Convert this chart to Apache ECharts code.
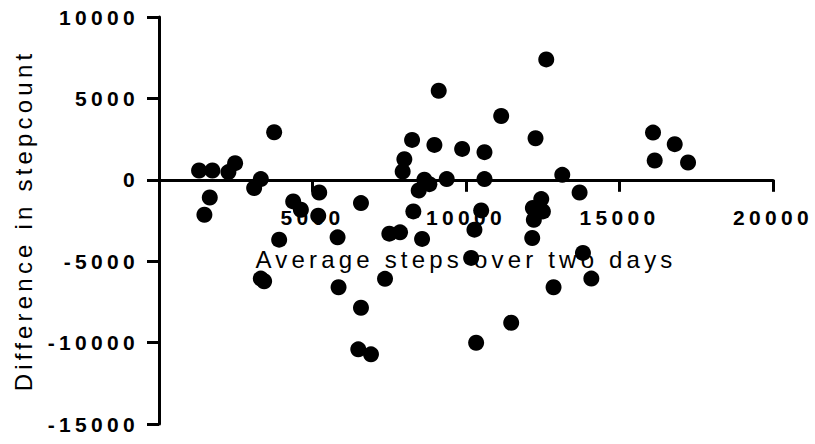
<!DOCTYPE html>
<html>
<head>
<meta charset="utf-8">
<script src="https://cdn.jsdelivr.net/npm/echarts@6/dist/echarts.min.js"></script>
<style>
  html, body { margin: 0; padding: 0; background: #fff; }
  #chart { width: 815px; height: 444px; }
  /* widely spaced lettering for all axis text */
  #chart text { letter-spacing: 4.2px; }
  #chart text[style*="bold"] { letter-spacing: 4.3px; }
</style>
</head>
<body>
<div id="chart"></div>
<script>
// Average steps over two days (x) vs. difference in step count (y)
const avgSteps = [
  1305, 1739, 2261, 2479, 1654, 1479, 3099, 3317, 3751, 4371,
  4622, 5219, 5187, 6579, 8243, 7992, 7937, 8971, 9111, 9874,
  10602, 11146, 12614, 12265, 16092, 16799, 16147, 17233, 13136, 13700,
  9372, 10602, 12451, 12178, 12504, 12210, 10494, 10275, 8644, 8807,
  8459, 8285, 3914, 5817, 7503, 7851, 8569, 10167, 3317, 3425,
  5849, 7362, 6579, 6491, 6905, 10330, 12157, 13809, 14083, 12852,
  11472
];
const stepDiff = [
  570, 570, 472, 1023, -1084, -2144, -509, 43, 2922, -1329,
  -1838, -778, -2206, -1430, 2451, 1268, 509, 2144, 5471, 1899,
  1697, 3921, 7395, 2555, 2898, 2187, 1183, 1060, 306, -778,
  43, 43, -1183, -1734, -1942, -2451, -1881, -3064, 0, -266,
  -654, -1942, -3676, -3535, -3309, -3229, -3633, -4797, -6066, -6231,
  -6599, -6084, -7861, -10416, -10722, -10006, -3574, -4493, -6066, -6599,
  -8782
];
const xTicks = [0, 5000, 10000, 15000, 20000];
const yTicks = [-15000, -10000, -5000, 0, 5000, 10000];

const points = avgSteps.map((x, i) => [x, stepDiff[i]]);
const FONT = "'Liberation Sans', Arial, sans-serif";

const W = 815, H = 444;
const GRID = { left: 159, right: 42, top: 17, bottom: 20 };
const yMin = yTicks[0], yMax = yTicks[yTicks.length - 1];
// the whole x axis (line, ticks, labels, title) sits on y = 0
const plotH = H - GRID.top - GRID.bottom;
const xAxisShift = -plotH * (0 - yMin) / (yMax - yMin);

const plain = v => String(v);

const chart = echarts.init(document.getElementById('chart'), null, { renderer: 'svg' });
chart.setOption({
  animation: false,
  backgroundColor: '#fff',
  grid: Object.assign({ outerBoundsMode: 'none', containLabel: false }, GRID),
  xAxis: {
    type: 'value',
    position: 'bottom',
    offset: xAxisShift,
    min: xTicks[0],
    max: xTicks[xTicks.length - 1],
    interval: xTicks[1] - xTicks[0],
    name: 'Average steps over two days',
    nameLocation: 'middle',
    nameGap: 68,
    nameTextStyle: { fontFamily: FONT, fontSize: 24, color: '#000' },
    axisLine: { onZero: false, lineStyle: { color: '#000', width: 3 } },
    axisTick: { show: true, inside: false, length: 12, lineStyle: { color: '#000', width: 3 } },
    axisLabel: {
      showMinLabel: false,
      margin: 27,
      formatter: plain,
      fontFamily: FONT, fontWeight: 'bold', fontSize: 21, color: '#000'
    },
    splitLine: { show: false }
  },
  yAxis: {
    type: 'value',
    min: yMin,
    max: yMax,
    interval: yTicks[1] - yTicks[0],
    name: 'Difference in stepcount',
    nameLocation: 'middle',
    nameGap: 124,
    nameTextStyle: { fontFamily: FONT, fontSize: 24, color: '#000' },
    axisLine: { onZero: false, lineStyle: { color: '#000', width: 3 } },
    axisTick: { show: true, inside: false, length: 12, lineStyle: { color: '#000', width: 3 } },
    axisLabel: {
      margin: 20,
      formatter: plain,
      fontFamily: FONT, fontWeight: 'bold', fontSize: 21, color: '#000'
    },
    splitLine: { show: false }
  },
  series: [{
    type: 'scatter',
    data: points,
    symbol: 'circle',
    symbolSize: 16,
    itemStyle: { color: '#000', opacity: 1 },
    z: 3
  }]
});
</script>
</body>
</html>
